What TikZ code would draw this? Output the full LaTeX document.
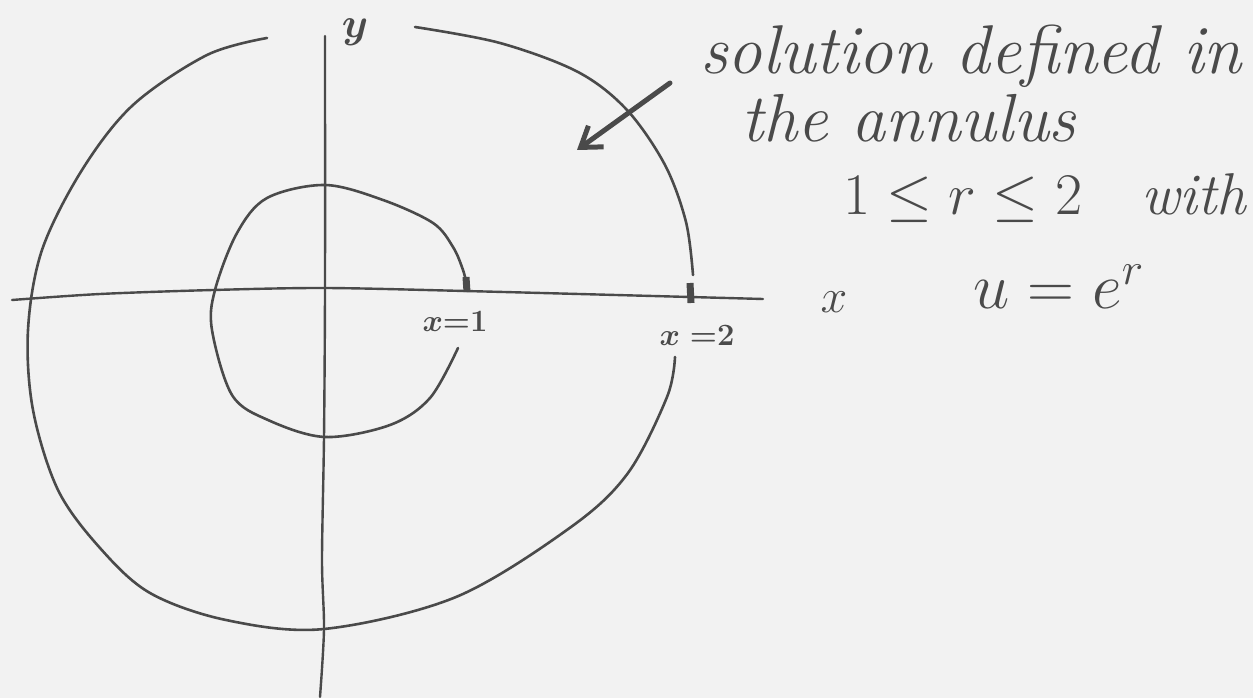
\RequirePackage{fix-cm}
\documentclass[tikz,border=0pt]{standalone}
\usetikzlibrary{arrows.meta}
\definecolor{ink}{HTML}{4A4A4A}
\definecolor{paper}{HTML}{F2F2F2}
\begin{document}
\begin{tikzpicture}[x=1pt,y=-1pt, line cap=round, line join=round,
  curve/.style={draw=ink, line width=2.6pt},
  axisline/.style={draw=ink, line width=2.4pt},
  tickmark/.style={draw=ink, line width=7pt, line cap=butt},
  pointer/.style={draw=ink, line width=5pt, -{Straight Barb[length=19pt,width=26pt]}},
  hand/.style={text=ink, inner sep=0pt},
  bigtext/.style={hand, anchor=base west},
]
\fill[paper] (0,0) rectangle (1253,698);
\useasboundingbox (0,0) rectangle (1253,698);

% axes
\draw[axisline] plot[smooth, tension=0.5] coordinates {(12,300) (100,294) (213,290) (325,288) (465,291) (690,297) (763,299)};
\draw[axisline] plot[smooth, tension=0.5] coordinates {(325,36) (325,288) (324,437) (322,560) (324,629) (320,697)};

% outer circle (r = 2), upper right piece
\draw[curve] plot[smooth, tension=0.55] coordinates {(415,27) (500,43) (578,72) (627,110) (665,165) (686,222) (693,275)};
% outer circle, remaining piece
\draw[curve] plot[smooth, tension=0.55] coordinates {(675,357) (667,397) (628,473) (571,527) (456,597) (324,629) (226,620) (150,593) (100,548) (58,490) (33,410) (28,330) (42,250) (82,170) (133,105) (207,55) (267,38)};

% inner circle (r = 1)
\draw[curve] plot[smooth, tension=0.55] coordinates {(458,348) (430,398) (390,425) (325,437) (268,420) (232,395) (212,330) (215,290) (237,233) (267,198) (325,185) (383,200) (433,223) (453,247) (463,270) (467,286)};

% tick marks
\draw[tickmark] (466,277) -- (467,292);
\draw[tickmark] (690,283) -- (691,303);

% labels
\node[hand, font=\fontsize{42}{42}\selectfont\boldmath] (ylab) at (355,32) {$y$};
\node[hand, font=\fontsize{48}{48}\selectfont] (xlab) at (834,302) {$x$};
\node[hand, font=\fontsize{31}{31}\selectfont\boldmath] (xone) at (455,322) {$x{=}1$};
\node[hand, font=\fontsize{31}{31}\selectfont\boldmath] (xtwo) at (697,336) {$x\;{=}2$};

% annotation
\node[bigtext, font=\fontsize{69}{69}\selectfont\itshape] (line1) at (700,74) {solution defined in};
\node[bigtext, font=\fontsize{68}{68}\selectfont\itshape] (line2) at (741,142) {the annulus};
\node[bigtext, font=\fontsize{59}{59}\selectfont\itshape] (line3) at (843,214) {$1 \le r \le 2$\quad with};
\node[bigtext, font=\fontsize{65}{65}\selectfont] (line4) at (973,308) {$u = e^{r}$};

% arrow
\coordinate (atail) at (670,83);
\coordinate (ahead) at (577,150);
\draw[pointer] (atail) -- (ahead);
\end{tikzpicture}
\end{document}
